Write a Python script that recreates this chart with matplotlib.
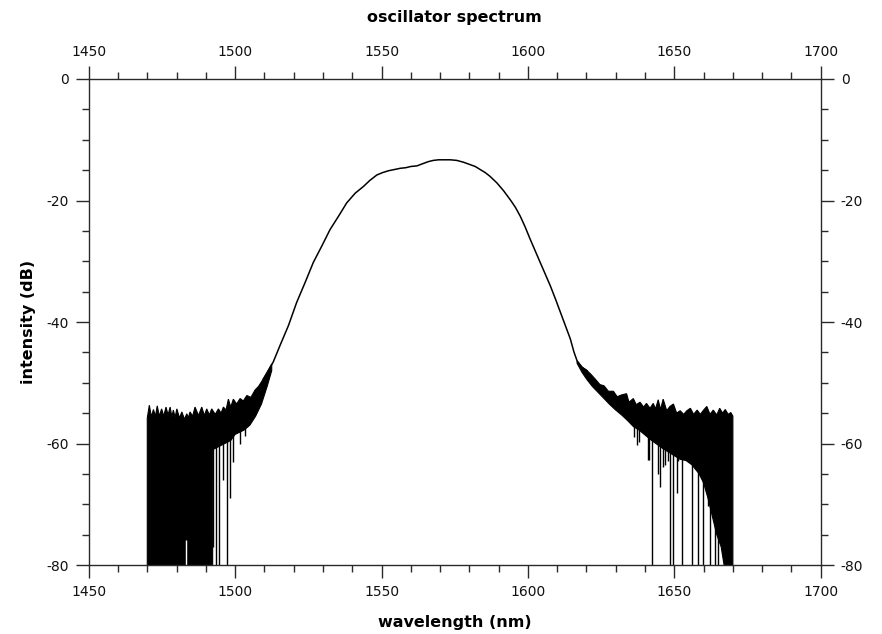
import numpy as np
import matplotlib
matplotlib.use("Agg")
import matplotlib.pyplot as plt
from matplotlib.ticker import MultipleLocator

plt.rcParams["axes.unicode_minus"] = False

# ---- smooth central part of the spectrum (nm, dB) ----
curve_wl = [1509.6, 1513.0, 1515.3, 1518.2, 1521.0, 1523.9, 1526.7,
            1529.6, 1532.4, 1535.3, 1538.1, 1541.0, 1543.8, 1546.0, 1548.4, 1550.4,
            1552.4, 1554.4, 1556.4, 1558.3, 1560.0, 1562.1, 1564.3, 1566.0, 1567.7,
            1569.5, 1571.2, 1573.5, 1575.7, 1578.0, 1580.3, 1582.0, 1583.7, 1585.4,
            1587.0, 1589.4, 1591.7, 1594.0, 1595.7, 1597.4, 1599.1, 1600.8, 1602.5,
            1604.2, 1606.0, 1607.7, 1609.4, 1611.1, 1612.8, 1614.5, 1615.7, 1616.8,
            1618.5, 1620.2]
curve_db = [-49.4, -46.6, -43.9, -40.6, -36.8, -33.5, -30.2,
            -27.5, -24.8, -22.6, -20.4, -18.8, -17.7, -16.7, -15.8, -15.4,
            -15.1, -14.9, -14.7, -14.6, -14.4, -14.3, -13.9, -13.6, -13.4,
            -13.3, -13.3, -13.3, -13.4, -13.7, -14.1, -14.4, -14.9, -15.4,
            -16.0, -17.1, -18.4, -19.9, -21.1, -22.6, -24.4, -26.4, -28.3,
            -30.2, -32.2, -34.1, -36.2, -38.4, -40.6, -42.8, -44.9, -46.4,
            -47.5, -48.0]

# ---- left noisy wing: top edge and bottom edge ----
left_top_wl = [1470.0, 1470.7, 1471.4, 1472.1, 1472.8, 1473.4, 1474.1, 1474.9, 1475.6,
               1476.4, 1477.1, 1477.8, 1478.4, 1478.9, 1479.5, 1480.1, 1481.0, 1481.8,
               1482.7, 1483.5, 1484.0, 1484.6, 1485.5, 1486.3, 1487.5, 1488.6, 1489.5,
               1490.3, 1491.2, 1492.0, 1493.2, 1494.3, 1495.2, 1496.0, 1496.9, 1497.7,
               1498.5, 1499.4, 1500.5, 1501.7, 1502.8, 1504.0, 1505.4, 1506.8, 1508.0,
               1509.6, 1511.0, 1512.5]
left_top_db = [-55.8, -53.7, -55.6, -54.4, -55.5, -53.8, -55.5, -54.3, -55.5,
               -54.0, -55.3, -54.0, -55.6, -54.5, -55.7, -54.3, -55.8, -54.8,
               -56.0, -55.1, -55.8, -54.8, -55.5, -54.0, -55.4, -54.0, -55.4,
               -54.3, -55.3, -54.3, -55.2, -54.3, -55.0, -54.0, -54.5, -52.7,
               -54.0, -52.7, -53.5, -52.6, -53.0, -52.1, -52.4, -51.2, -50.6,
               -49.4, -48.3, -46.9]
left_bot_wl = [1470.0, 1492.3, 1492.4, 1498.5, 1500.0, 1503.0, 1505.0, 1507.0, 1509.0,
               1511.0, 1512.5]
left_bot_db = [-85.0, -85.0, -61.0, -59.5, -58.5, -57.8, -57.0, -55.5, -53.5,
               -50.5, -48.0]

# ---- right noisy wing: top edge and bottom edge ----
right_top_wl = [1616.8, 1618.5, 1620.2, 1621.5, 1623.0, 1624.6, 1626.0, 1627.5, 1629.2,
                1630.5, 1632.0, 1633.7, 1634.5, 1636.0, 1637.0, 1638.3, 1639.5, 1640.5,
                1641.7, 1642.8, 1643.6, 1644.5, 1645.3, 1646.2, 1647.4, 1648.5, 1649.7,
                1650.8, 1652.0, 1653.2, 1654.3, 1655.5, 1656.6, 1657.8, 1658.9, 1660.0,
                1661.1, 1662.2, 1663.3, 1664.5, 1665.5, 1666.5, 1667.4, 1668.4, 1669.3,
                1670.0]
right_top_db = [-46.4, -47.4, -48.0, -48.6, -49.4, -50.3, -50.5, -51.4, -51.4,
                -52.3, -52.0, -51.8, -53.2, -52.6, -53.6, -53.2, -54.0, -53.4,
                -54.2, -53.4, -54.3, -52.8, -54.4, -52.7, -54.6, -53.9, -53.5,
                -55.0, -54.6, -55.2, -54.6, -54.2, -55.2, -54.5, -55.2, -54.5,
                -53.9, -55.2, -54.5, -55.3, -54.2, -55.0, -54.4, -55.2, -54.9,
                -55.5]
right_bot_wl = [1616.8, 1618.5, 1620.2, 1622.0, 1624.0, 1626.0, 1628.0, 1630.0, 1632.0,
                1634.0, 1636.0, 1638.0, 1640.0, 1642.0, 1644.0, 1646.0, 1648.0, 1650.0,
                1652.0, 1654.0, 1656.0, 1658.5, 1660.0, 1661.5, 1663.0, 1664.5, 1666.0,
                1667.0, 1668.0, 1670.0]
right_bot_db = [-46.8, -48.3, -49.5, -50.6, -51.6, -52.6, -53.6, -54.5, -55.3,
                -56.2, -57.2, -57.8, -58.6, -59.4, -60.1, -60.8, -61.4, -62.0,
                -62.6, -62.8, -63.5, -65.0, -66.5, -69.0, -72.0, -75.0, -77.0,
                -80.0, -85.0, -85.0]

# ---- deep dropouts (wavelength, lowest dB) ----
spike_wl = [1492.6, 1493.5, 1494.6, 1496.0, 1497.1, 1498.3, 1499.3, 1501.7, 1503.4,
            1636.4, 1637.2, 1638.0, 1641.1, 1641.4, 1642.5, 1644.5, 1645.1, 1646.0,
            1646.8, 1648.0, 1648.4, 1649.5, 1650.8, 1651.4, 1652.5, 1653.7, 1655.4,
            1656.1, 1658.2, 1658.8, 1659.9, 1661.6, 1662.2, 1663.9, 1665.0, 1666.2,
            1668.4]
spike_db = [-77.0, -81.0, -81.0, -66.0, -81.0, -69.0, -63.0, -60.0, -58.7,
            -59.0, -60.2, -59.8, -62.7, -62.7, -81.0, -65.1, -67.1, -63.8,
            -63.5, -62.8, -81.0, -81.0, -68.1, -62.9, -81.0, -60.5, -62.7,
            -81.0, -81.0, -65.4, -81.0, -70.3, -81.0, -81.0, -81.0, -75.9,
            -81.0]
spike_top = -56.0

# ---- gap inside the left wing (wavelength, top of gap dB) ----
gap_wl = [1483.1]
gap_db = [-75.8]

x_ticks = [1450, 1500, 1550, 1600, 1650, 1700]
y_ticks = [0, -20, -40, -60, -80]

fig = plt.figure(figsize=(8.82, 6.34), dpi=100)
ax = fig.add_axes([0.1006, 0.1088, 0.8299, 0.7666])

ink = "black"
ax.fill(np.concatenate([left_top_wl, left_bot_wl[::-1]]),
        np.concatenate([left_top_db, left_bot_db[::-1]]),
        facecolor=ink, edgecolor=ink, linewidth=0.8)
ax.fill(np.concatenate([right_top_wl, right_bot_wl[::-1]]),
        np.concatenate([right_top_db, right_bot_db[::-1]]),
        facecolor=ink, edgecolor=ink, linewidth=0.8)
ax.vlines(spike_wl, spike_db, spike_top, colors=ink, linewidth=1.0)
ax.vlines(gap_wl, -81, gap_db, colors="white", linewidth=1.0)
ax.plot(curve_wl, curve_db, color=ink, linewidth=1.1)

ax.set_xlim(1450, 1700)
ax.set_ylim(-80, 0)
ax.set_xticks(x_ticks)
ax.set_yticks(y_ticks)
ax.xaxis.set_minor_locator(MultipleLocator(10))
ax.yaxis.set_minor_locator(MultipleLocator(5))

spine_c = "#2a2a2a"
for s in ax.spines.values():
    s.set_color(spine_c)
    s.set_linewidth(1.0)
ax.tick_params(which="both", direction="out", top=True, right=True,
               labeltop=True, labelright=True, color=spine_c, width=1.0,
               labelsize=10, labelcolor="#111111")
ax.tick_params(which="major", length=9.5, pad=5)
ax.tick_params(which="minor", length=5)

fig.text(0.5156, 0.973, "oscillator spectrum", ha="center", va="center",
         fontsize=11.5, fontweight="bold")
fig.text(0.5156, 0.018, "wavelength (nm)", ha="center", va="center",
         fontsize=11.5, fontweight="bold")
fig.text(0.032, 0.492, "intensity (dB)", ha="center", va="center",
         rotation=90, fontsize=11.5, fontweight="bold")

fig.savefig("out.png", dpi=100)
